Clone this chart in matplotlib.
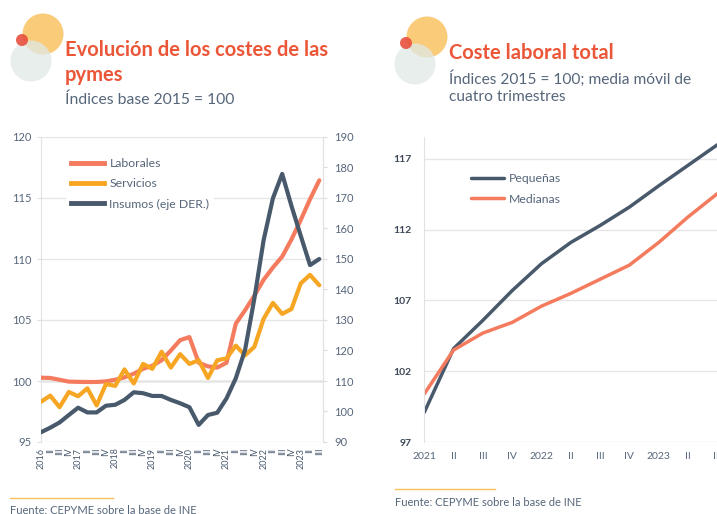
import matplotlib
matplotlib.use("Agg")
import matplotlib.pyplot as plt
from matplotlib.patches import Circle
from matplotlib.lines import Line2D
import numpy as np

plt.rcParams['font.family'] = ['Lato', 'DejaVu Sans']

# ---- data: left chart, quarterly 2016 I .. 2023 III ----
quarter_labels_left = []
for year in range(2016, 2024):
    quarter_labels_left += [str(year), "II", "III", "IV"]
quarter_labels_left = quarter_labels_left[:31]

laborales = [100.27, 100.25, 100.1, 99.95, 99.93, 99.92, 99.92, 99.97, 100.1, 100.3,
             100.6, 101.0, 101.25, 101.7, 102.5, 103.35, 103.6, 101.5, 101.2, 101.1,
             101.5, 104.7, 105.8, 107.0, 108.3, 109.3, 110.2, 111.6, 113.2, 114.9, 116.45]
servicios = [98.3, 98.8, 97.85, 99.1, 98.75, 99.4, 98.0, 99.75, 99.6, 100.95,
             99.8, 101.4, 101.0, 102.4, 101.1, 102.2, 101.4, 101.7, 100.25, 101.7,
             101.85, 102.9, 102.1, 102.8, 105.1, 106.4, 105.5, 105.9, 108.0, 108.7, 107.85]
insumos = [93.2, 94.7, 96.4, 98.85, 101.25, 99.7, 99.7, 101.9, 102.2, 103.8,
           106.3, 106.0, 105.1, 105.1, 103.8, 102.7, 101.4, 95.6, 98.85, 99.6,
           104.3, 110.9, 120.2, 137.0, 156.2, 169.9, 177.9, 167.4, 157.6, 148.0, 150.0]

# ---- data: right chart, quarterly 2021 I .. 2023 III ----
quarter_labels_right = ["2021", "II", "III", "IV", "2022", "II", "III", "IV", "2023", "II", "III"]
pequenas = [99.1, 103.6, 105.6, 107.7, 109.6, 111.1, 112.3, 113.6, 115.1, 116.55, 118.0]
medianas = [100.4, 103.5, 104.7, 105.45, 106.6, 107.5, 108.5, 109.5, 111.1, 112.9, 114.55]

# colours
salmon = "#F47B5E"
amber = "#F6A623"
slate = "#48596C"
title_col = "#EC5638"
text_col = "#56667A"
grid_col = "#E6E6E6"

W, H = 717, 514
fig = plt.figure(figsize=(W / 100, H / 100), dpi=100)

# background layer in pixel coordinates for decorations and titles
bg = fig.add_axes([0, 0, 1, 1])
bg.set_xlim(0, W)
bg.set_ylim(H, 0)
bg.axis("off")


def blobs(cx, cy):
    bg.add_patch(Circle((cx + 12, cy - 4), 20.5, color="#FAC66A", alpha=0.9, lw=0))
    bg.add_patch(Circle((cx, cy + 23), 20.5, color="#DFE9E6", alpha=0.75, lw=0))
    bg.add_patch(Circle((cx - 9, cy + 2), 6, color="#E8503E", alpha=0.9, lw=0))


blobs(31, 38)
blobs(415, 41)

bg.text(65, 50, "Evolución de los costes de las", color=title_col, fontsize=14.5,
        fontweight="bold", va="center")
bg.text(65, 75, "pymes", color=title_col, fontsize=14.5, fontweight="bold", va="center")
bg.text(65, 100, "Índices base 2015 = 100", color=text_col, fontsize=11.3, va="center")

bg.text(449, 53, "Coste laboral total", color=title_col, fontsize=14.5,
        fontweight="bold", va="center")
bg.text(449, 79, "Índices 2015 = 100; media móvil de", color=text_col, fontsize=11.2, va="center")
bg.text(449, 97, "cuatro trimestres", color=text_col, fontsize=11.2, va="center")

# footers
bg.plot([10, 113], [498, 498], color="#F8C15A", lw=1)
bg.text(10, 511, "Fuente: CEPYME sobre la base de INE", color=text_col, fontsize=8, va="center")
bg.plot([395, 495], [489, 489], color="#F8C15A", lw=1)
bg.text(395, 502, "Fuente: CEPYME sobre la base de INE", color=text_col, fontsize=8, va="center")

# ---- left chart ----
ax = fig.add_axes([41 / W, 72 / H, 282 / W, 305 / H])
x = np.arange(len(laborales))
ax.plot(x, laborales, color=salmon, lw=3, solid_capstyle="round", zorder=3)
ax.plot(x, servicios, color=amber, lw=3, solid_capstyle="round", zorder=3)
ax.set_xlim(0, 30.4)
ax.set_ylim(95, 120)
ax.set_yticks([95, 100, 105, 110, 115, 120])
ax.grid(axis="y", color=grid_col, lw=1)
ax.axhline(100, color="#EBEBEB", lw=2, zorder=1)
ax.set_xticks(x)
ax.set_xticklabels(quarter_labels_left, rotation=90, fontsize=6.5, color=slate)
ax.set_xticks(x[::4], minor=True)
ax.tick_params(axis="x", which="major", length=0, pad=4)
ax.tick_params(axis="x", which="minor", length=4, color="#DDDDDD")
ax.tick_params(axis="y", length=3, color="#DDDDDD", labelsize=8, labelcolor=text_col, pad=4)
for side in ["top", "bottom"]:
    ax.spines[side].set_visible(False)
for side in ["left", "right"]:
    ax.spines[side].set_color("#E2E2E2")

ax2 = ax.twinx()
ax2.plot(x, insumos, color=slate, lw=3, solid_capstyle="round", zorder=3)
ax2.set_ylim(90, 190)
ax2.set_yticks(np.arange(90, 191, 10))
ax2.tick_params(axis="y", length=3, color="#DDDDDD", labelsize=8, labelcolor=text_col, pad=5)
for side in ["top", "bottom", "left"]:
    ax2.spines[side].set_visible(False)
ax2.spines["right"].set_color("#E2E2E2")

handles = [Line2D([], [], color=salmon, lw=3.5),
           Line2D([], [], color=amber, lw=3.5),
           Line2D([], [], color=slate, lw=3.5)]
ax2.legend(handles, ["Laborales", "Servicios", "Insumos (eje DER.)"], loc="upper left",
           bbox_to_anchor=(0.089, 0.947), borderaxespad=0, frameon=True, facecolor="white",
           edgecolor="none", framealpha=1, fontsize=8.8, handlelength=2.7, handletextpad=0.45,
           labelspacing=0.76, labelcolor=text_col)

# ---- right chart ----
axr = fig.add_axes([424.3 / W, 72 / H, 307.7 / W, 305 / H])
xr = np.arange(len(pequenas))
axr.plot(xr, pequenas, color=slate, lw=2.5, solid_capstyle="round", label="Pequeñas")
axr.plot(xr, medianas, color=salmon, lw=2.5, solid_capstyle="round", label="Medianas")
axr.set_xlim(0, 10.5)
axr.set_ylim(97, 118.55)
axr.set_yticks([97, 102, 107, 112, 117])
axr.grid(axis="y", color=grid_col, lw=1)
axr.set_xticks(xr)
axr.set_xticklabels(quarter_labels_right, fontsize=7.5, color=text_col)
axr.set_xticks(xr[::4], minor=True)
axr.tick_params(axis="x", which="major", length=0, pad=7)
axr.tick_params(axis="x", which="minor", length=3, color="#DDDDDD")
axr.tick_params(axis="y", length=0, labelsize=7.5, labelcolor="#3C4858", pad=9)
for lbl in axr.get_yticklabels():
    lbl.set_fontweight("bold")
for side in ["top", "bottom", "right"]:
    axr.spines[side].set_visible(False)
axr.spines["left"].set_color("#E2E2E2")
axr.legend(loc="upper left", bbox_to_anchor=(0.135, 0.897), borderaxespad=0, frameon=True,
           facecolor="white", edgecolor="none", framealpha=1, fontsize=8.8, handlelength=2.7,
           handletextpad=0.45, labelspacing=0.76, labelcolor=text_col)

fig.savefig("out.png", dpi=100)
